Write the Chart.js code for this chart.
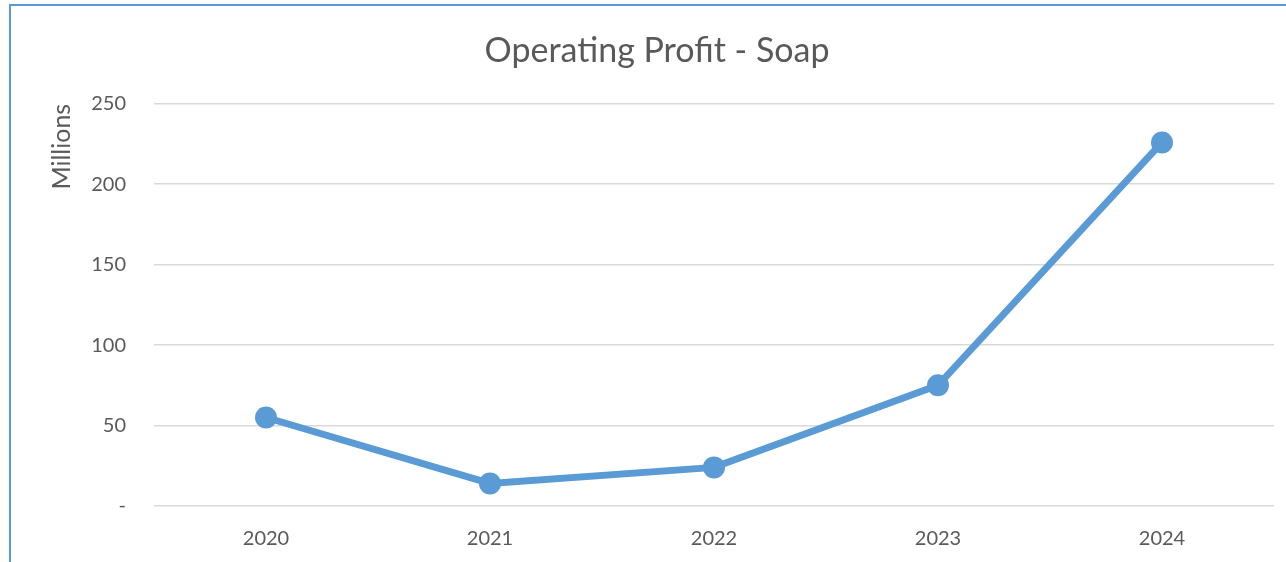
<!DOCTYPE html>
<html>
<head>
<meta charset="utf-8">
<script src="https://cdn.jsdelivr.net/npm/chart.js@4/dist/chart.umd.min.js"></script>
<style>
  html, body { margin: 0; padding: 0; background: #fff; overflow: hidden; }
  #wrap { position: relative; width: 1286px; height: 562px; }
  #frame { position: absolute; left: 9px; top: 4px; width: 1300px; height: 600px; border: 2px solid #5B9BD5; box-sizing: border-box; pointer-events: none; }
  canvas { position: absolute; left: 0; top: 0; }
</style>
</head>
<body>
<div id="wrap">
  <canvas id="c" width="1286" height="562"></canvas>
  <div id="frame"></div>
</div>
<script>
const chartTitle = 'Operating Profit - Soap';
const yAxisTitle = 'Millions';
const categories = ['2020', '2021', '2022', '2023', '2024'];
const profitValues = [55, 14, 24, 75, 226];
const yTicks = [0, 50, 100, 150, 200, 250];

const fontFam = "Lato, 'Open Sans', sans-serif";
const textColor = '#595959';
const lineColor = '#5B9BD5';

new Chart(document.getElementById('c'), {
  type: 'line',
  data: {
    labels: categories,
    datasets: [{
      label: chartTitle,
      data: profitValues,
      borderColor: lineColor,
      backgroundColor: lineColor,
      borderWidth: 7,
      pointRadius: 11,
      pointHoverRadius: 11,
      pointBackgroundColor: lineColor,
      pointBorderColor: lineColor,
      pointBorderWidth: 0,
      tension: 0,
      fill: false
    }]
  },
  options: {
    responsive: false,
    animation: false,
    layout: { padding: { left: 40, right: 12, top: 0, bottom: 0 } },
    plugins: {
      legend: { display: false },
      tooltip: { enabled: false },
      title: {
        display: true,
        text: chartTitle,
        color: textColor,
        font: { family: fontFam, size: 34, weight: 'normal' },
        padding: { top: 31, bottom: 32 }
      }
    },
    scales: {
      x: {
        offset: true,
        grid: { display: false, drawTicks: false },
        border: { display: false },
        ticks: { color: textColor, font: { family: fontFam, size: 20 }, padding: 21 },
        afterFit: (s) => { s.height = 56; }
      },
      y: {
        min: 0,
        max: 250,
        afterBuildTicks: (s) => { s.ticks = yTicks.map(v => ({ value: v })); },
        grid: { color: '#d9d9d9', lineWidth: 1.5, drawTicks: false },
        border: { display: false },
        ticks: {
          color: textColor,
          font: { family: fontFam, size: 20 },
          padding: 28,
          callback: (v) => v === 0 ? '-' : String(v)
        },
        title: {
          display: true,
          text: yAxisTitle,
          align: 'end',
          color: textColor,
          font: { family: fontFam, size: 25 },
          padding: { top: 7, bottom: 0 }
        },
        afterFit: (s) => { s.width = 114; }
      }
    }
  }
});
</script>
</body>
</html>
